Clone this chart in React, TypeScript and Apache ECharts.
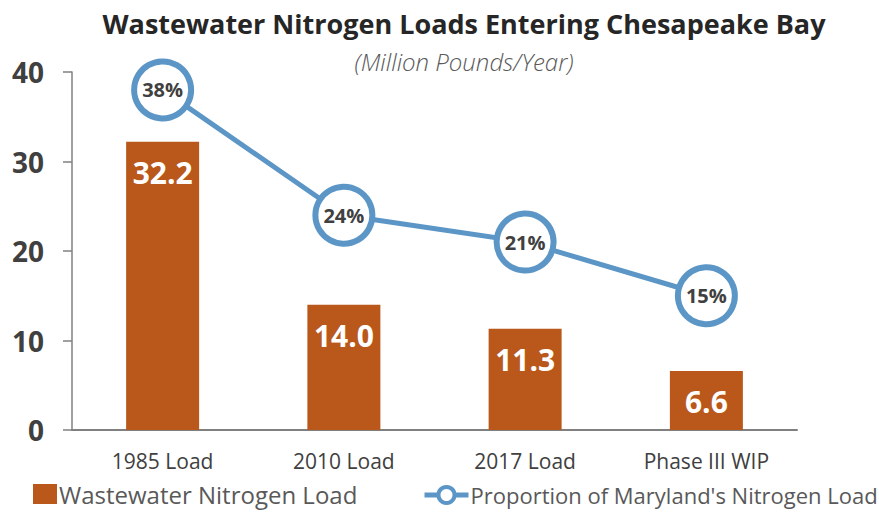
import React, { useEffect, useRef } from "react";
import * as echarts from "echarts";

const categories = ["1985 Load", "2010 Load", "2017 Load", "Phase III WIP"];
const loadValues = [32.2, 14.0, 11.3, 6.6];
const proportionValues = [38, 24, 21, 15];
const yTicks = [0, 10, 20, 30, 40];

const FONT = "'Open Sans', 'Noto Sans', sans-serif";
const BAR_NAME = "Wastewater Nitrogen Load";
const LINE_NAME = "Proportion of Maryland's Nitrogen Load";

export default function App() {
  const ref = useRef<HTMLDivElement>(null);
  useEffect(() => {
    if (!ref.current) return;
    const chart = echarts.init(ref.current, undefined, { renderer: "svg" });
    chart.setOption({
      animation: false,
      backgroundColor: "#ffffff",
      title: [
        {
          text: "Wastewater Nitrogen Loads Entering Chesapeake Bay",
          left: 459,
          textAlign: "center",
          top: 5,
          textStyle: { fontFamily: FONT, fontSize: 27, fontWeight: "bold", color: "#262626" },
        },
        {
          text: "(Million Pounds/Year)",
          left: 459,
          textAlign: "center",
          top: 44,
          textStyle: { fontFamily: FONT, fontSize: 24, fontStyle: "italic", fontWeight: 300, color: "#595959" },
        },
      ],
      grid: { left: 72, right: 82, top: 72, bottom: 84, containLabel: false },
      legend: [
        {
          bottom: 3,
          left: 28,
          itemWidth: 24,
          itemHeight: 20,
          itemGap: 0,
          textStyle: { fontFamily: FONT, fontSize: 24, color: "#595959", padding: [0, 0, 0, -3] },
          data: [{ name: BAR_NAME, icon: "rect" }],
        },
        {
          bottom: 3,
          left: 417,
          itemWidth: 44,
          itemHeight: 20,
          lineStyle: { width: 5 },
          itemStyle: { borderWidth: 4 },
          textStyle: { fontFamily: FONT, fontSize: 22, color: "#595959", padding: [0, 0, 0, -3] },
          data: [{ name: LINE_NAME }],
        },
      ],
      xAxis: {
        type: "category",
        data: categories,
        axisLine: { lineStyle: { color: "#808080", width: 2 } },
        axisTick: { show: false },
        axisLabel: { fontFamily: FONT, fontSize: 21, color: "#404040", margin: 20 },
      },
      yAxis: {
        type: "value",
        min: yTicks[0],
        max: yTicks[yTicks.length - 1],
        interval: 10,
        splitLine: { show: false },
        axisLine: { show: true, lineStyle: { color: "#808080", width: 1.5 } },
        axisTick: { show: true, length: 9, lineStyle: { color: "#808080", width: 1.5 } },
        axisLabel: { fontFamily: FONT, fontSize: 28, fontWeight: "bold", color: "#404040", margin: 28 },
      },
      series: [
        {
          name: BAR_NAME,
          type: "bar",
          data: loadValues,
          barWidth: 73,
          itemStyle: { color: "#b9581a" },
          label: {
            show: true,
            position: "insideTop",
            distance: 16,
            formatter: (p: any) => Number(p.value).toFixed(1),
            fontFamily: FONT,
            fontSize: 30,
            fontWeight: "bold",
            color: "#ffffff",
          },
        },
        {
          name: LINE_NAME,
          type: "line",
          data: proportionValues,
          symbol: "circle",
          symbolSize: 57,
          lineStyle: { color: "#5b96c6", width: 5 },
          itemStyle: { color: "#ffffff", borderColor: "#5b96c6", borderWidth: 6 },
          label: {
            show: true,
            position: "inside",
            formatter: "{c}%",
            fontFamily: FONT,
            fontSize: 20,
            fontWeight: "bold",
            color: "#404040",
          },
          z: 3,
        },
      ],
    });
    return () => chart.dispose();
  }, []);
  return <div ref={ref} style={{ width: 879, height: 514, position: "absolute", left: 0, top: 0 }} />;
}
